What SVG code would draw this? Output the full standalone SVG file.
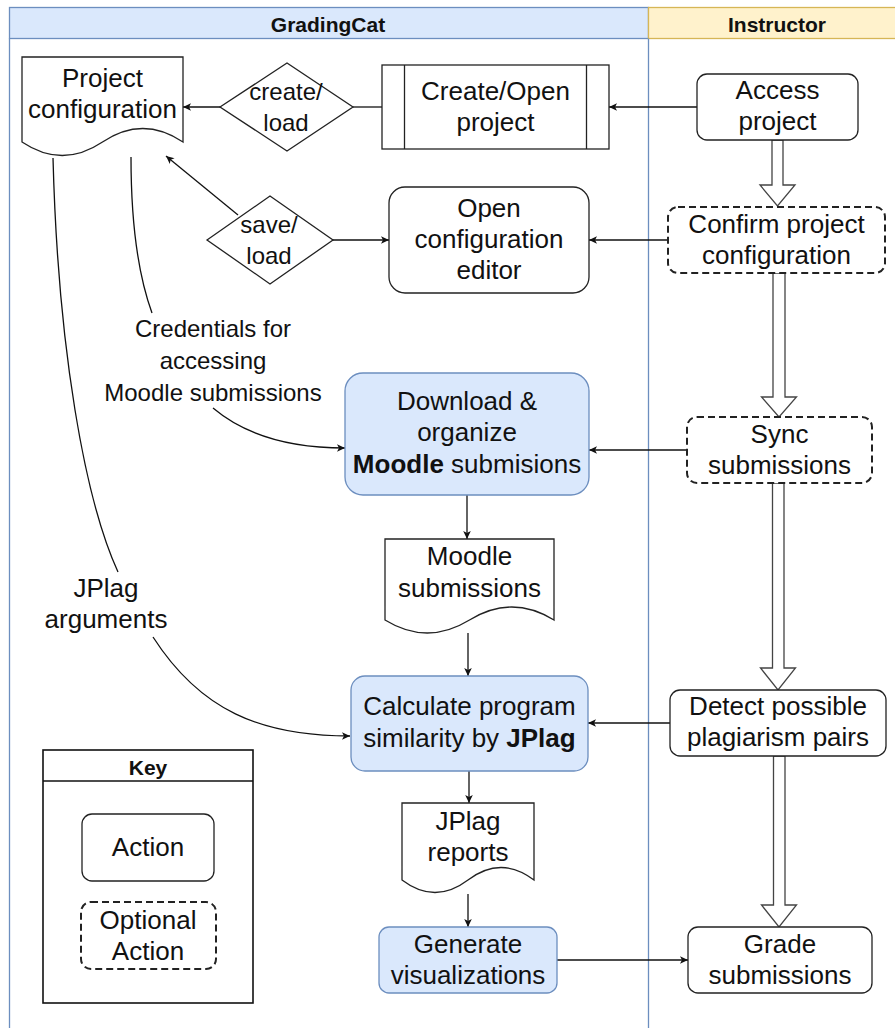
<svg xmlns="http://www.w3.org/2000/svg" width="895" height="1028" viewBox="0 0 895 1028">
<defs>
<marker id="arr" markerWidth="10" markerHeight="10" refX="9" refY="5" orient="auto" markerUnits="userSpaceOnUse"><path d="M1,1.2 L9,5 L1,8.8 L3,5 Z" fill="#111"/></marker>
<style>
text{font-family:"Liberation Sans",Arial,sans-serif;fill:#111;text-anchor:middle}
.t{font-size:26px}
.l{font-size:24px}
.h{font-size:21px;font-weight:bold}
.n{fill:#fff;stroke:#222;stroke-width:1.3}
.b{fill:#dae8fc;stroke:#6c8ebf;stroke-width:1.3}
.d{fill:#fff;stroke:#222;stroke-width:2;stroke-dasharray:7 4}
.c{fill:none;stroke:#111;stroke-width:1.3}
.ba{fill:#fff;stroke:#444;stroke-width:1.3}
</style>
</defs>
<rect width="895" height="1028" fill="#fff"/>
<g id="pool">
<rect x="9.5" y="7.5" width="639" height="31" fill="#dae8fc" stroke="#6c8ebf" stroke-width="1.3"/>
<rect x="648.5" y="7.5" width="260" height="31" fill="#fff2cc" stroke="#d6b656" stroke-width="1.3"/>
<line x1="9.5" y1="38.5" x2="9.5" y2="1028" stroke="#6c8ebf" stroke-width="1.3"/>
<line x1="648.5" y1="38.5" x2="648.5" y2="1028" stroke="#6c8ebf" stroke-width="1.3"/>
<text class="h" x="328" y="32">GradingCat</text>
<text class="h" x="777" y="32">Instructor</text>
</g>
<g id="connectors">
<line class="c" x1="382" y1="107" x2="353" y2="107"/>
<line class="c" x1="220" y1="107" x2="183" y2="107" marker-end="url(#arr)"/>
<line class="c" x1="697" y1="107" x2="609" y2="107" marker-end="url(#arr)"/>
<line class="c" x1="333" y1="240" x2="389" y2="240" marker-end="url(#arr)"/>
<line class="c" x1="238" y1="215" x2="166" y2="156" marker-end="url(#arr)"/>
<line class="c" x1="668" y1="240" x2="589" y2="240" marker-end="url(#arr)"/>
<line class="c" x1="687" y1="450" x2="589" y2="450" marker-end="url(#arr)"/>
<line class="c" x1="467" y1="495" x2="467" y2="539" marker-end="url(#arr)"/>
<line class="c" x1="468" y1="633" x2="468" y2="676" marker-end="url(#arr)"/>
<line class="c" x1="670" y1="723" x2="588" y2="723" marker-end="url(#arr)"/>
<line class="c" x1="469" y1="771" x2="469" y2="803" marker-end="url(#arr)"/>
<line class="c" x1="468" y1="894" x2="468" y2="927" marker-end="url(#arr)"/>
<line class="c" x1="557" y1="960" x2="688" y2="960" marker-end="url(#arr)"/>
<path class="c" d="M131,157 C131,230 140,280 152,313"/>
<path class="c" d="M213,408 C245,435 290,448 345,448" marker-end="url(#arr)"/>
<path class="c" d="M53,158 C58,350 85,500 118,572"/>
<path class="c" d="M153,637 C200,710 260,736 350,736" marker-end="url(#arr)"/>
<polygon class="ba" points="772,140 783,140 783,185 795,185 777.5,206 760,185 772,185"/>
<polygon class="ba" points="773,273 785,273 785,397 796.5,397 779,417 761.5,397 773,397"/>
<polygon class="ba" points="772.5,483 784,483 784,668 795.5,668 778,690 760.5,668 772.5,668"/>
<polygon class="ba" points="773.5,756 785,756 785,905 796.5,905 779,927 761.5,905 773.5,905"/>
<text class="l" x="213" y="337">Credentials for</text>
<text class="l" x="213" y="369">accessing</text>
<text class="l" x="213" y="401">Moodle submissions</text>
<text class="t" x="106" y="597">JPlag</text>
<text class="t" x="106" y="628">arguments</text>
</g>
<g id="project-config">
<path class="n" d="M22,57 H183 V142 Q142.75,115 102.5,142 Q62.25,169 22,142 Z"/>
<text class="t" x="102.5" y="87">Project</text>
<text class="t" x="102.5" y="118">configuration</text>
</g>
<g id="create-load">
<polygon class="n" points="220,107 287,63 353,107 287,151"/>
<text class="l" x="286" y="100">create/</text>
<text class="l" x="286" y="131">load</text>
</g>
<g id="create-open">
<rect class="n" x="382" y="65" width="227" height="84"/>
<line class="n" x1="404.5" y1="65" x2="404.5" y2="149"/>
<line class="n" x1="586.5" y1="65" x2="586.5" y2="149"/>
<text class="t" x="495.5" y="100">Create/Open</text>
<text class="t" x="495.5" y="131">project</text>
</g>
<g id="access-project">
<rect class="n" x="697" y="74" width="161" height="66" rx="10"/>
<text class="t" x="777.5" y="99">Access</text>
<text class="t" x="777.5" y="130">project</text>
</g>
<g id="save-load">
<polygon class="n" points="207,240 270,196 333,240 270,284"/>
<text class="l" x="269" y="233">save/</text>
<text class="l" x="269" y="264">load</text>
</g>
<g id="open-config">
<rect class="n" x="389" y="187" width="200" height="106" rx="16"/>
<text class="t" x="489" y="217">Open</text>
<text class="t" x="489" y="248">configuration</text>
<text class="t" x="489" y="279">editor</text>
</g>
<g id="confirm-config">
<rect class="d" x="668" y="207" width="217" height="66" rx="10"/>
<text class="t" x="776.5" y="233">Confirm project</text>
<text class="t" x="776.5" y="264">configuration</text>
</g>
<g id="download">
<rect class="b" x="345" y="373" width="244" height="122" rx="18"/>
<text class="t" x="467" y="410">Download &amp;</text>
<text class="t" x="467" y="441">organize</text>
<text class="t" x="467" y="473"><tspan font-weight="bold">Moodle</tspan> submisions</text>
</g>
<g id="sync">
<rect class="d" x="687" y="417" width="185" height="66" rx="10"/>
<text class="t" x="779.5" y="443">Sync</text>
<text class="t" x="779.5" y="474">submissions</text>
</g>
<g id="moodle-submissions">
<path class="n" d="M385,539 H554 V620 Q511.75,594 469.5,620 Q427.25,646 385,620 Z"/>
<text class="t" x="469.5" y="565">Moodle</text>
<text class="t" x="469.5" y="597">submissions</text>
</g>
<g id="calculate">
<rect class="b" x="351" y="676" width="237" height="95" rx="14"/>
<text class="t" x="469.5" y="715">Calculate program</text>
<text class="t" x="469.5" y="747">similarity by <tspan font-weight="bold">JPlag</tspan></text>
</g>
<g id="detect">
<rect class="n" x="670" y="690" width="216" height="66" rx="10"/>
<text class="t" x="778" y="715">Detect possible</text>
<text class="t" x="778" y="746">plagiarism pairs</text>
</g>
<g id="jplag-reports">
<path class="n" d="M402,803 H534 V880 Q501,855 468,880 Q435,905 402,880 Z"/>
<text class="t" x="468" y="830">JPlag</text>
<text class="t" x="468" y="861">reports</text>
</g>
<g id="generate">
<rect class="b" x="379" y="927" width="178" height="66" rx="10"/>
<text class="t" x="468" y="953">Generate</text>
<text class="t" x="468" y="984">visualizations</text>
</g>
<g id="grade">
<rect class="n" x="688" y="927" width="184" height="66" rx="10"/>
<text class="t" x="780" y="953">Grade</text>
<text class="t" x="780" y="984">submissions</text>
</g>
<g id="key">
<rect x="43" y="750" width="210" height="253" fill="#fff" stroke="#111" stroke-width="1.6"/>
<line x1="43" y1="781" x2="253" y2="781" stroke="#111" stroke-width="1.6"/>
<text class="h" x="148" y="775">Key</text>
<rect class="n" x="82" y="814" width="132" height="67" rx="10"/>
<text class="t" x="148" y="856">Action</text>
<rect class="d" x="81" y="902" width="135" height="67" rx="10"/>
<text class="t" x="148" y="929">Optional</text>
<text class="t" x="148" y="960">Action</text>
</g>
</svg>
